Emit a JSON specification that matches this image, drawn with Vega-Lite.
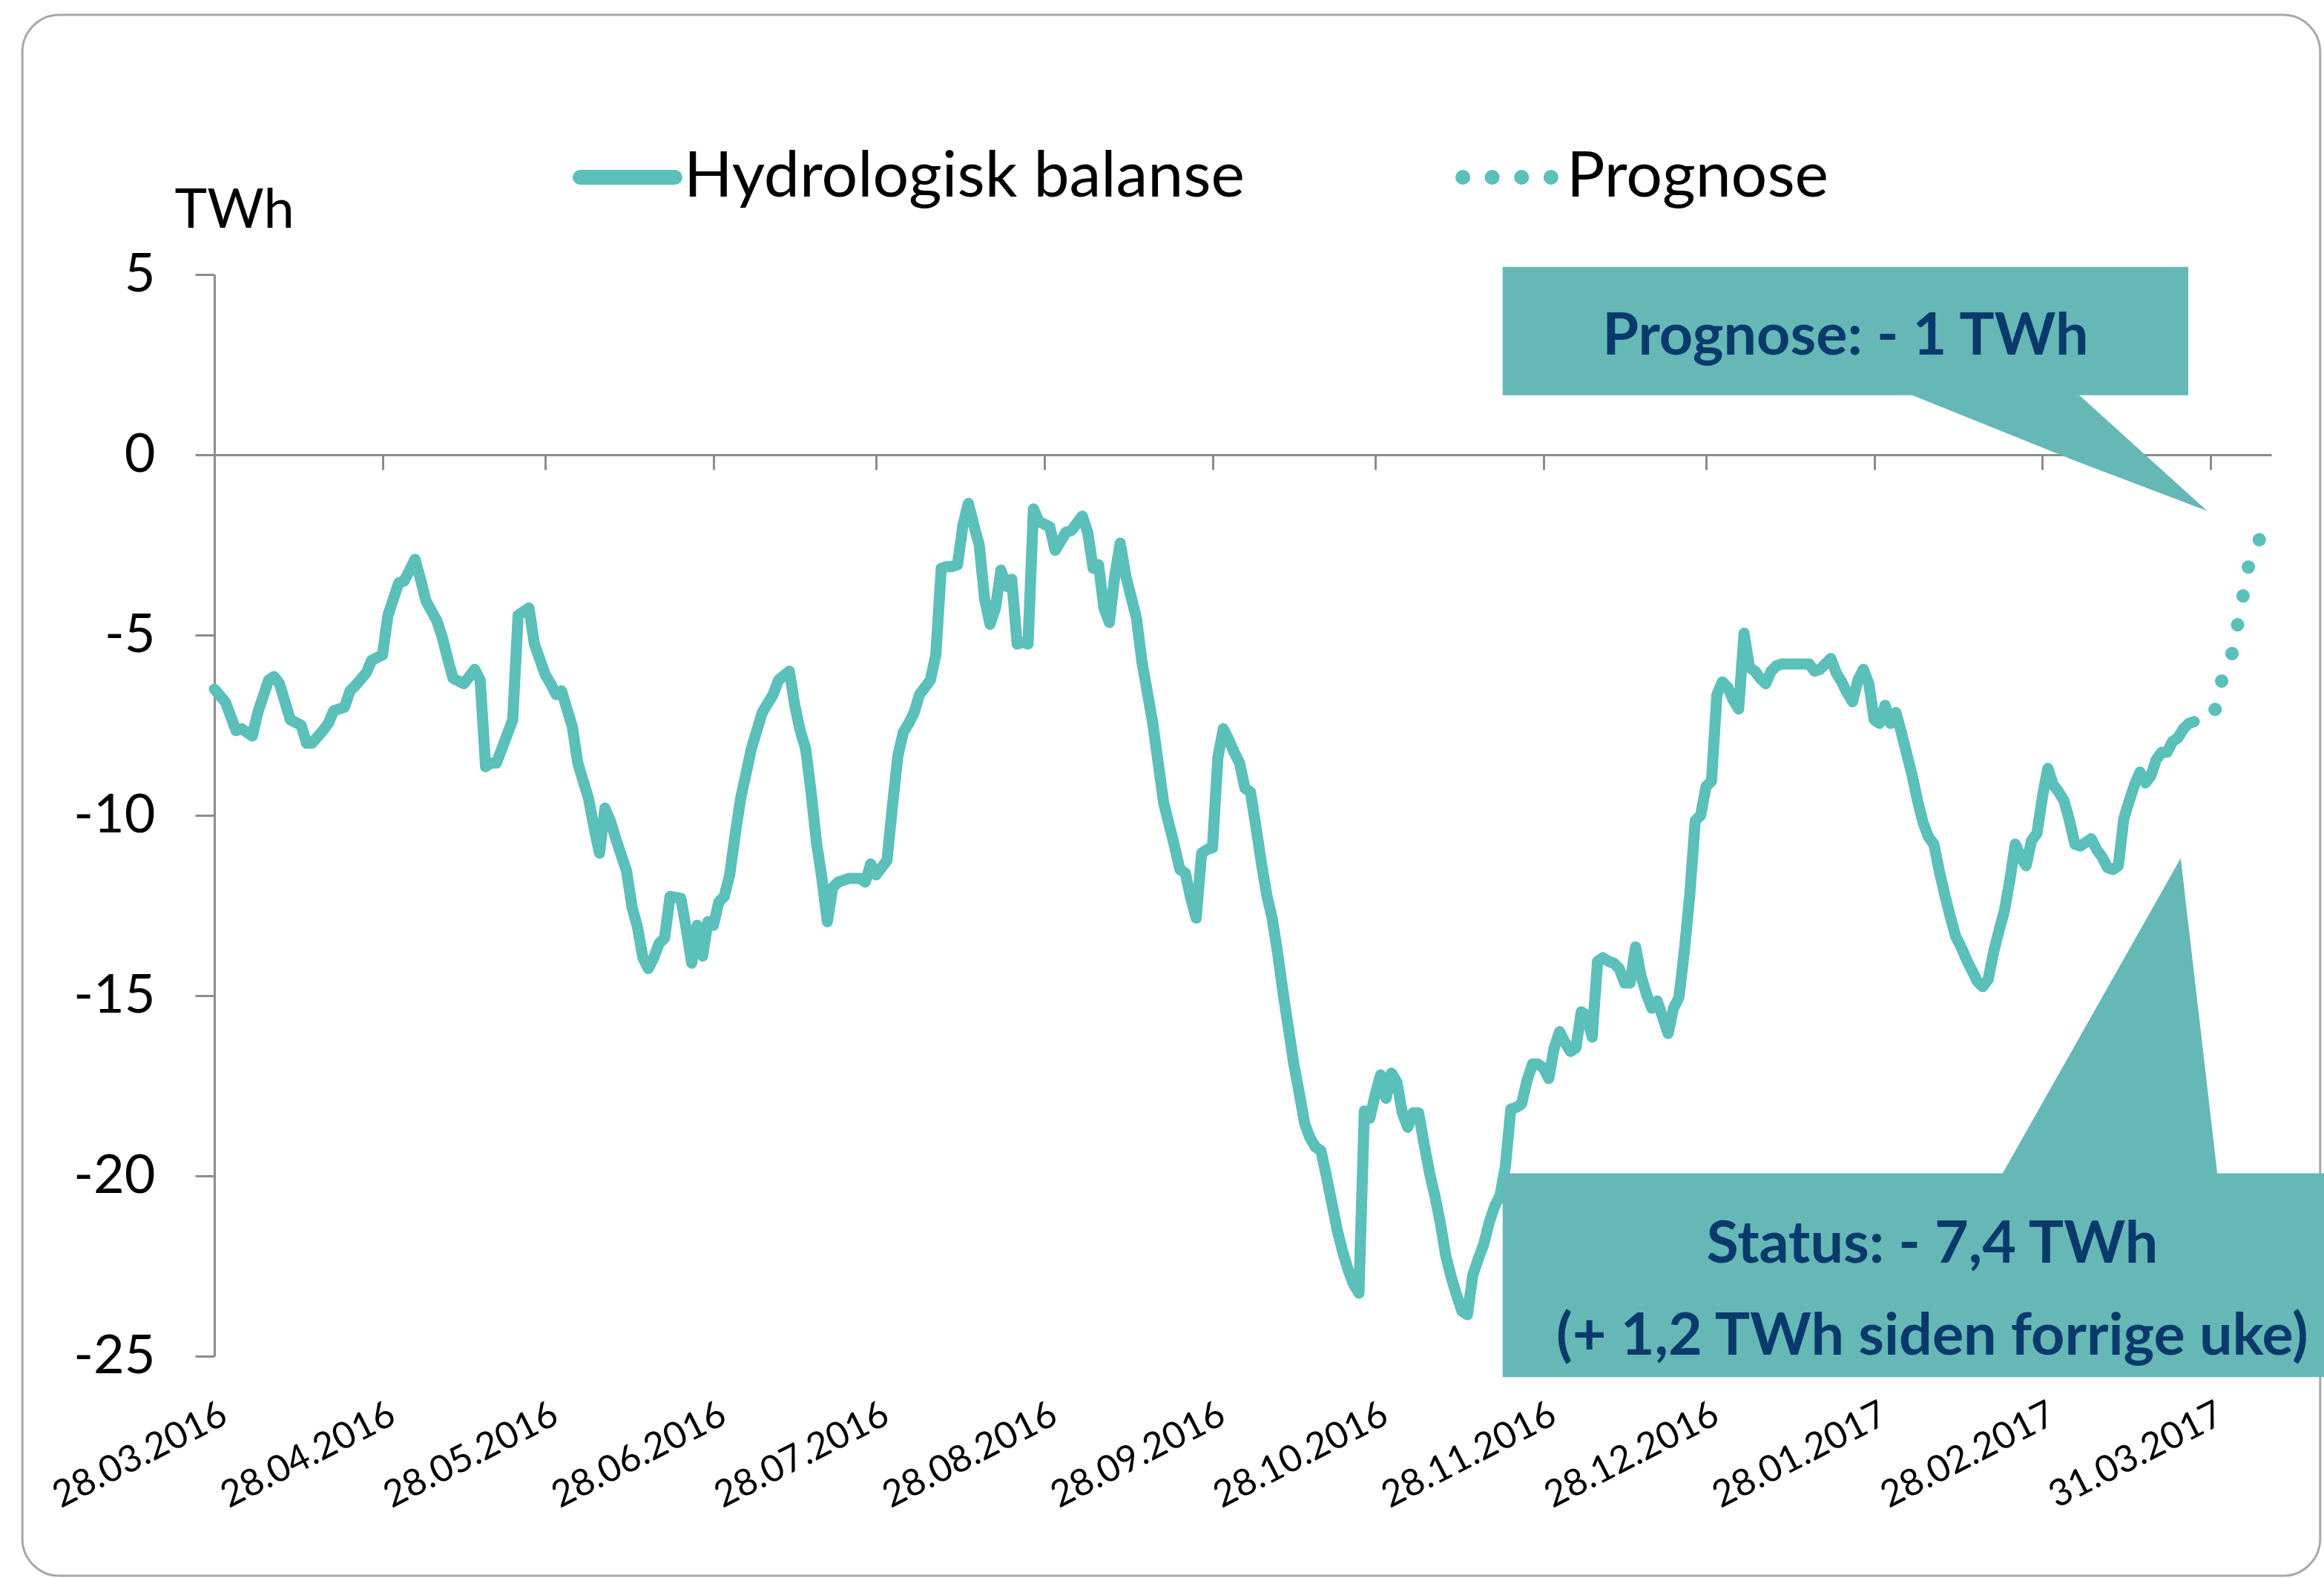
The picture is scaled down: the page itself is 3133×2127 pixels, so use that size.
{
  "$schema": "https://vega.github.io/schema/vega-lite/v6.json",
  "width": 2773,
  "height": 1458,
  "autosize": {"type": "none"},
  "padding": {"left": 289, "top": 370, "right": 71, "bottom": 299},
  "background": "white",
  "config": {"view": {"stroke": null}, "font": "Lato"},
  "datasets": {
    "hydro": [
      {"date":"2016-03-28","value":-6.5},{"date":"2016-03-30","value":-6.85},{"date":"2016-04-01","value":-7.65},{"date":"2016-04-02","value":-7.6},{"date":"2016-04-04","value":-7.8},{"date":"2016-04-05","value":-7.15},{"date":"2016-04-07","value":-6.25},{"date":"2016-04-08","value":-6.15},{"date":"2016-04-09","value":-6.35},{"date":"2016-04-11","value":-7.35},{"date":"2016-04-13","value":-7.5},{"date":"2016-04-14","value":-8.0},{"date":"2016-04-15","value":-8.0},{"date":"2016-04-17","value":-7.65},{"date":"2016-04-18","value":-7.45},{"date":"2016-04-19","value":-7.1},{"date":"2016-04-21","value":-7.0},{"date":"2016-04-22","value":-6.55},{"date":"2016-04-23","value":-6.4},{"date":"2016-04-25","value":-6.05},{"date":"2016-04-26","value":-5.7},{"date":"2016-04-28","value":-5.55},{"date":"2016-04-29","value":-4.45},
      {"date":"2016-05-01","value":-3.55},{"date":"2016-05-02","value":-3.5},{"date":"2016-05-04","value":-2.9},{"date":"2016-05-05","value":-3.45},{"date":"2016-05-06","value":-4.05},{"date":"2016-05-08","value":-4.6},{"date":"2016-05-09","value":-5.05},{"date":"2016-05-10","value":-5.65},{"date":"2016-05-11","value":-6.2},{"date":"2016-05-13","value":-6.35},{"date":"2016-05-15","value":-5.95},{"date":"2016-05-16","value":-6.25},{"date":"2016-05-17","value":-8.65},{"date":"2016-05-18","value":-8.55},{"date":"2016-05-19","value":-8.55},{"date":"2016-05-21","value":-7.75},{"date":"2016-05-22","value":-7.35},{"date":"2016-05-23","value":-4.45},{"date":"2016-05-25","value":-4.25},{"date":"2016-05-26","value":-5.25},{"date":"2016-05-28","value":-6.1},{"date":"2016-05-29","value":-6.35},{"date":"2016-05-30","value":-6.65},{"date":"2016-05-31","value":-6.55},
      {"date":"2016-06-02","value":-7.55},{"date":"2016-06-03","value":-8.55},{"date":"2016-06-05","value":-9.55},{"date":"2016-06-06","value":-10.35},{"date":"2016-06-07","value":-11.05},{"date":"2016-06-08","value":-9.8},{"date":"2016-06-09","value":-10.15},{"date":"2016-06-10","value":-10.65},{"date":"2016-06-12","value":-11.55},{"date":"2016-06-13","value":-12.55},{"date":"2016-06-14","value":-13.1},{"date":"2016-06-15","value":-13.95},{"date":"2016-06-16","value":-14.25},{"date":"2016-06-17","value":-13.95},{"date":"2016-06-18","value":-13.55},{"date":"2016-06-19","value":-13.4},{"date":"2016-06-20","value":-12.25},{"date":"2016-06-22","value":-12.3},{"date":"2016-06-23","value":-13.15},{"date":"2016-06-24","value":-14.1},{"date":"2016-06-25","value":-13.05},{"date":"2016-06-26","value":-13.9},{"date":"2016-06-27","value":-12.95},{"date":"2016-06-28","value":-13.05},{"date":"2016-06-29","value":-12.4},{"date":"2016-06-30","value":-12.25},
      {"date":"2016-07-01","value":-11.65},{"date":"2016-07-02","value":-10.55},{"date":"2016-07-03","value":-9.55},{"date":"2016-07-04","value":-8.85},{"date":"2016-07-05","value":-8.15},{"date":"2016-07-06","value":-7.65},{"date":"2016-07-07","value":-7.15},{"date":"2016-07-09","value":-6.65},{"date":"2016-07-10","value":-6.25},{"date":"2016-07-12","value":-6.0},{"date":"2016-07-13","value":-6.95},{"date":"2016-07-14","value":-7.65},{"date":"2016-07-15","value":-8.15},{"date":"2016-07-16","value":-9.35},{"date":"2016-07-17","value":-10.75},{"date":"2016-07-18","value":-11.75},{"date":"2016-07-19","value":-12.95},{"date":"2016-07-20","value":-12.0},{"date":"2016-07-21","value":-11.85},{"date":"2016-07-23","value":-11.75},{"date":"2016-07-25","value":-11.75},{"date":"2016-07-26","value":-11.85},{"date":"2016-07-27","value":-11.35},{"date":"2016-07-28","value":-11.65},{"date":"2016-07-30","value":-11.25},{"date":"2016-07-31","value":-9.75},
      {"date":"2016-08-01","value":-8.35},{"date":"2016-08-02","value":-7.7},{"date":"2016-08-03","value":-7.45},{"date":"2016-08-04","value":-7.15},{"date":"2016-08-05","value":-6.65},{"date":"2016-08-07","value":-6.25},{"date":"2016-08-08","value":-5.55},{"date":"2016-08-09","value":-3.15},{"date":"2016-08-10","value":-3.1},{"date":"2016-08-11","value":-3.1},{"date":"2016-08-12","value":-3.05},{"date":"2016-08-13","value":-1.95},{"date":"2016-08-14","value":-1.35},{"date":"2016-08-15","value":-1.95},{"date":"2016-08-16","value":-2.5},{"date":"2016-08-17","value":-4.0},{"date":"2016-08-18","value":-4.7},{"date":"2016-08-19","value":-4.25},{"date":"2016-08-20","value":-3.2},{"date":"2016-08-21","value":-3.65},{"date":"2016-08-22","value":-3.45},{"date":"2016-08-23","value":-5.25},{"date":"2016-08-24","value":-5.2},{"date":"2016-08-25","value":-5.25},{"date":"2016-08-26","value":-1.5},{"date":"2016-08-27","value":-1.85},{"date":"2016-08-29","value":-2.0},{"date":"2016-08-30","value":-2.65},
      {"date":"2016-09-01","value":-2.15},{"date":"2016-09-02","value":-2.1},{"date":"2016-09-04","value":-1.7},{"date":"2016-09-05","value":-2.15},{"date":"2016-09-06","value":-3.15},{"date":"2016-09-07","value":-3.05},{"date":"2016-09-08","value":-4.25},{"date":"2016-09-09","value":-4.65},{"date":"2016-09-10","value":-3.35},{"date":"2016-09-11","value":-2.45},{"date":"2016-09-12","value":-3.34},{"date":"2016-09-14","value":-4.54},{"date":"2016-09-15","value":-5.74},{"date":"2016-09-17","value":-7.45},{"date":"2016-09-18","value":-8.55},{"date":"2016-09-19","value":-9.65},{"date":"2016-09-21","value":-10.85},{"date":"2016-09-22","value":-11.5},{"date":"2016-09-23","value":-11.6},{"date":"2016-09-24","value":-12.3},{"date":"2016-09-25","value":-12.85},{"date":"2016-09-26","value":-11.05},{"date":"2016-09-27","value":-10.95},{"date":"2016-09-28","value":-10.9},{"date":"2016-09-29","value":-8.4},{"date":"2016-09-30","value":-7.6},
      {"date":"2016-10-01","value":-7.9},{"date":"2016-10-02","value":-8.25},{"date":"2016-10-03","value":-8.55},{"date":"2016-10-04","value":-9.25},{"date":"2016-10-05","value":-9.35},{"date":"2016-10-06","value":-10.3},{"date":"2016-10-07","value":-11.3},{"date":"2016-10-08","value":-12.2},{"date":"2016-10-09","value":-12.85},{"date":"2016-10-10","value":-13.8},{"date":"2016-10-11","value":-14.9},{"date":"2016-10-12","value":-15.9},{"date":"2016-10-13","value":-16.9},{"date":"2016-10-14","value":-17.7},{"date":"2016-10-15","value":-18.55},{"date":"2016-10-16","value":-18.95},{"date":"2016-10-17","value":-19.2},{"date":"2016-10-18","value":-19.3},{"date":"2016-10-19","value":-20.0},{"date":"2016-10-20","value":-20.75},{"date":"2016-10-21","value":-21.5},{"date":"2016-10-22","value":-22.1},{"date":"2016-10-23","value":-22.6},{"date":"2016-10-24","value":-23.0},{"date":"2016-10-25","value":-23.25},{"date":"2016-10-26","value":-18.2},{"date":"2016-10-27","value":-18.4},{"date":"2016-10-28","value":-17.75},{"date":"2016-10-29","value":-17.2},{"date":"2016-10-30","value":-17.85},{"date":"2016-10-31","value":-17.15},
      {"date":"2016-11-01","value":-17.4},{"date":"2016-11-02","value":-18.25},{"date":"2016-11-03","value":-18.65},{"date":"2016-11-04","value":-18.25},{"date":"2016-11-05","value":-18.25},{"date":"2016-11-06","value":-19.1},{"date":"2016-11-07","value":-19.9},{"date":"2016-11-08","value":-20.55},{"date":"2016-11-09","value":-21.3},{"date":"2016-11-10","value":-22.2},{"date":"2016-11-11","value":-22.8},{"date":"2016-11-12","value":-23.3},{"date":"2016-11-13","value":-23.75},{"date":"2016-11-14","value":-23.85},{"date":"2016-11-15","value":-22.75},{"date":"2016-11-16","value":-22.3},{"date":"2016-11-17","value":-21.9},{"date":"2016-11-18","value":-21.3},{"date":"2016-11-19","value":-20.85},{"date":"2016-11-20","value":-20.55},{"date":"2016-11-21","value":-19.75},{"date":"2016-11-22","value":-18.15},{"date":"2016-11-23","value":-18.1},{"date":"2016-11-24","value":-18.0},{"date":"2016-11-25","value":-17.35},{"date":"2016-11-26","value":-16.9},{"date":"2016-11-27","value":-16.9},{"date":"2016-11-28","value":-17.0},{"date":"2016-11-29","value":-17.3},{"date":"2016-11-30","value":-16.45},
      {"date":"2016-12-01","value":-16.0},{"date":"2016-12-02","value":-16.3},{"date":"2016-12-03","value":-16.55},{"date":"2016-12-04","value":-16.45},{"date":"2016-12-05","value":-15.45},{"date":"2016-12-06","value":-15.55},{"date":"2016-12-07","value":-16.15},{"date":"2016-12-08","value":-14.05},{"date":"2016-12-09","value":-13.95},{"date":"2016-12-10","value":-14.05},{"date":"2016-12-11","value":-14.1},{"date":"2016-12-12","value":-14.25},{"date":"2016-12-13","value":-14.65},{"date":"2016-12-14","value":-14.65},{"date":"2016-12-15","value":-13.65},{"date":"2016-12-16","value":-14.45},{"date":"2016-12-17","value":-14.95},{"date":"2016-12-18","value":-15.35},{"date":"2016-12-19","value":-15.15},{"date":"2016-12-20","value":-15.6},{"date":"2016-12-21","value":-16.05},{"date":"2016-12-22","value":-15.35},{"date":"2016-12-23","value":-15.05},{"date":"2016-12-24","value":-13.75},{"date":"2016-12-25","value":-12.2},{"date":"2016-12-26","value":-10.15},{"date":"2016-12-27","value":-10.0},{"date":"2016-12-28","value":-9.2},{"date":"2016-12-29","value":-9.05},{"date":"2016-12-30","value":-6.65},{"date":"2016-12-31","value":-6.3},
      {"date":"2017-01-01","value":-6.45},{"date":"2017-01-02","value":-6.8},{"date":"2017-01-03","value":-7.05},{"date":"2017-01-04","value":-4.95},{"date":"2017-01-05","value":-5.9},{"date":"2017-01-06","value":-6.0},{"date":"2017-01-07","value":-6.2},{"date":"2017-01-08","value":-6.35},{"date":"2017-01-09","value":-6.0},{"date":"2017-01-10","value":-5.85},{"date":"2017-01-11","value":-5.8},{"date":"2017-01-14","value":-5.8},{"date":"2017-01-16","value":-5.8},{"date":"2017-01-17","value":-6.0},{"date":"2017-01-18","value":-5.95},{"date":"2017-01-19","value":-5.8},{"date":"2017-01-20","value":-5.65},{"date":"2017-01-21","value":-6.05},{"date":"2017-01-22","value":-6.3},{"date":"2017-01-23","value":-6.6},{"date":"2017-01-24","value":-6.85},{"date":"2017-01-25","value":-6.25},{"date":"2017-01-26","value":-5.95},{"date":"2017-01-27","value":-6.35},{"date":"2017-01-28","value":-7.35},{"date":"2017-01-29","value":-7.45},{"date":"2017-01-30","value":-6.95},{"date":"2017-01-31","value":-7.45},
      {"date":"2017-02-01","value":-7.15},{"date":"2017-02-02","value":-7.7},{"date":"2017-02-03","value":-8.3},{"date":"2017-02-04","value":-8.9},{"date":"2017-02-05","value":-9.6},{"date":"2017-02-06","value":-10.2},{"date":"2017-02-07","value":-10.6},{"date":"2017-02-08","value":-10.8},{"date":"2017-02-09","value":-11.55},{"date":"2017-02-10","value":-12.2},{"date":"2017-02-11","value":-12.8},{"date":"2017-02-12","value":-13.35},{"date":"2017-02-13","value":-13.65},{"date":"2017-02-14","value":-14.0},{"date":"2017-02-15","value":-14.3},{"date":"2017-02-16","value":-14.6},{"date":"2017-02-17","value":-14.75},{"date":"2017-02-18","value":-14.55},{"date":"2017-02-19","value":-13.8},{"date":"2017-02-20","value":-13.2},{"date":"2017-02-21","value":-12.65},{"date":"2017-02-22","value":-11.8},{"date":"2017-02-23","value":-10.8},{"date":"2017-02-24","value":-11.15},{"date":"2017-02-25","value":-11.4},{"date":"2017-02-26","value":-10.7},{"date":"2017-02-27","value":-10.5},{"date":"2017-02-28","value":-9.5},
      {"date":"2017-03-01","value":-8.7},{"date":"2017-03-02","value":-9.15},{"date":"2017-03-03","value":-9.35},{"date":"2017-03-04","value":-9.6},{"date":"2017-03-05","value":-10.15},{"date":"2017-03-06","value":-10.8},{"date":"2017-03-07","value":-10.85},{"date":"2017-03-08","value":-10.75},{"date":"2017-03-09","value":-10.65},{"date":"2017-03-10","value":-10.95},{"date":"2017-03-11","value":-11.15},{"date":"2017-03-12","value":-11.45},{"date":"2017-03-13","value":-11.5},{"date":"2017-03-14","value":-11.4},{"date":"2017-03-15","value":-10.1},{"date":"2017-03-16","value":-9.6},{"date":"2017-03-17","value":-9.15},{"date":"2017-03-18","value":-8.8},{"date":"2017-03-19","value":-9.1},{"date":"2017-03-20","value":-8.9},{"date":"2017-03-21","value":-8.45},{"date":"2017-03-22","value":-8.25},{"date":"2017-03-23","value":-8.25},{"date":"2017-03-24","value":-7.95},{"date":"2017-03-25","value":-7.85},{"date":"2017-03-26","value":-7.6},{"date":"2017-03-27","value":-7.45},{"date":"2017-03-28","value":-7.4}
    ],
    "prognose": [
      {"date":"2017-03-28","value":-7.4},{"date":"2017-03-30","value":-7.2},{"date":"2017-04-01","value":-7.05},{"date":"2017-04-02","value":-6.3},{"date":"2017-04-04","value":-5.5},{"date":"2017-04-05","value":-4.7},{"date":"2017-04-06","value":-3.9},{"date":"2017-04-07","value":-3.1},{"date":"2017-04-09","value":-2.35}
    ],
    "frame": [
      {"date":"2016-02-21T14:24:00Z","date2":"2017-04-20T05:00:00Z","value":12.2,"value2":-31.09}
    ],
    "boxes": [
      {"date":"2016-11-20T12:00:00Z","date2":"2017-03-26T21:36:00Z","value":5.21,"value2":1.65},
      {"date":"2016-11-20T12:00:00Z","date2":"2017-04-22","value":-19.93,"value2":-25.58}
    ],
    "pointers": [
      {"shape":"prognose","date":"2017-02-02T09:36:00Z","value":1.75,"value2":1.75},
      {"shape":"prognose","date":"2017-03-06T02:24:00Z","value":1.75,"value2":-0.17},
      {"shape":"prognose","date":"2017-03-30T09:36:00Z","value":-1.56,"value2":-1.56},
      {"shape":"status","date":"2017-02-20T09:36:00Z","value":-20.0,"value2":-20.0},
      {"shape":"status","date":"2017-03-25T12:00:00Z","value":-11.19,"value2":-20.0},
      {"shape":"status","date":"2017-04-01T07:12:00Z","value":-20.0,"value2":-20.0}
    ],
    "labels": [
      {"date":"2017-01-22T16:48:00Z","value":2.78,"label":"Prognose: - 1 TWh"},
      {"date":"2017-02-07T16:48:00Z","value":-22.4,"label":"Status: - 7,4 TWh"},
      {"date":"2017-02-07T16:48:00Z","value":-24.95,"label":"(+ 1,2 TWh siden forrige uke)"}
    ]
  },
  "layer": [
    {
      "data": {"name": "frame"},
      "mark": {"type": "rect", "fill": null, "stroke": "#A8A8A8", "strokeWidth": 3, "cornerRadius": 50},
      "encoding": {
        "x": {"field": "date", "type": "temporal", "title": null},
        "x2": {"field": "date2"},
        "y": {"field": "value", "type": "quantitative", "title": "TWh"},
        "y2": {"field": "value2"}
      }
    },
    {
      "data": {"name": "hydro"},
      "mark": {"type": "line", "stroke": "#5BBFBA", "strokeWidth": 15, "strokeCap": "round", "strokeJoin": "round"},
      "encoding": {
        "x": {
          "field": "date", "type": "temporal", "title": null,
          "scale": {"type": "utc", "domain": [{"year": 2016, "month": 3, "date": 28, "utc": true}, {"year": 2017, "month": 4, "date": 11, "hours": 5, "utc": true}]},
          "axis": {
            "values": [
              {"year": 2016, "month": 3, "date": 28, "utc": true},
              {"year": 2016, "month": 4, "date": 28, "utc": true},
              {"year": 2016, "month": 5, "date": 28, "utc": true},
              {"year": 2016, "month": 6, "date": 28, "utc": true},
              {"year": 2016, "month": 7, "date": 28, "utc": true},
              {"year": 2016, "month": 8, "date": 28, "utc": true},
              {"year": 2016, "month": 9, "date": 28, "utc": true},
              {"year": 2016, "month": 10, "date": 28, "utc": true},
              {"year": 2016, "month": 11, "date": 28, "utc": true},
              {"year": 2016, "month": 12, "date": 28, "utc": true},
              {"year": 2017, "month": 1, "date": 28, "utc": true},
              {"year": 2017, "month": 2, "date": 28, "utc": true},
              {"year": 2017, "month": 3, "date": 31, "utc": true}
            ],
            "format": "%d.%m.%Y",
            "labelAngle": -27,
            "labelAlign": "right",
            "labelBaseline": "top",
            "labelFont": "Lato",
            "labelFontSize": 50,
            "labelColor": "#000000",
            "labelLimit": 0,
            "labelOverlap": false,
            "labelBound": false,
            "labelFlush": false,
            "labelPadding": 1248,
            "labelOffset": 2,
            "offset": -1215,
            "tickSize": 20,
            "tickWidth": 3,
            "tickColor": "#8C8C8C",
            "domainColor": "#8C8C8C",
            "domainWidth": 3,
            "grid": false
          }
        },
        "y": {
          "field": "value", "type": "quantitative", "title": "TWh",
          "scale": {"domain": [-25, 5], "nice": false, "zero": false},
          "axis": {
            "values": [-25, -20, -15, -10, -5, 0, 5],
            "labelExpr": "'' + datum.value",
            "labelFont": "Lato",
            "labelFontSize": 72,
            "labelColor": "#000000",
            "labelPadding": 54,
            "tickSize": 26,
            "tickWidth": 3,
            "tickColor": "#8C8C8C",
            "domainColor": "#8C8C8C",
            "domainWidth": 3,
            "grid": false,
            "titleAngle": 0,
            "titleAlign": "left",
            "titleBaseline": "alphabetic",
            "titleX": -54,
            "titleY": -64,
            "titleFont": "Lato",
            "titleFontSize": 74,
            "titleFontWeight": "normal",
            "titleColor": "#000000"
          }
        },
        "strokeDash": {
          "datum": "Hydrologisk balanse",
          "scale": {"domain": ["Hydrologisk balanse", "Prognose"], "range": [[1, 0], [0.1, 39.5]]},
          "legend": {
            "orient": "none",
            "legendX": 483,
            "legendY": -205,
            "direction": "horizontal",
            "title": null,
            "symbolType": "stroke",
            "symbolSize": 16384,
            "symbolStrokeWidth": 20,
            "symbolStrokeColor": "#5BBFBA",
            "labelFont": "Lato",
            "labelFontSize": 86,
            "labelColor": "#000000",
            "labelOffset": 2,
            "labelLimit": 3000,
            "columnPadding": 254,
            "encode": {"symbols": {"update": {"strokeCap": {"value": "round"}}}}
          }
        }
      }
    },
    {
      "data": {"name": "prognose"},
      "mark": {"type": "line", "stroke": "#5BBFBA", "strokeWidth": 18, "strokeCap": "round", "strokeJoin": "round", "strokeDashOffset": 7},
      "encoding": {
        "x": {"field": "date", "type": "temporal", "title": null},
        "y": {"field": "value", "type": "quantitative", "title": "TWh"},
        "strokeDash": {"datum": "Prognose"}
      }
    },
    {
      "data": {"name": "boxes"},
      "mark": {"type": "rect", "fill": "#65B8B6", "stroke": null},
      "encoding": {
        "x": {"field": "date", "type": "temporal", "title": null},
        "x2": {"field": "date2"},
        "y": {"field": "value", "type": "quantitative", "title": "TWh"},
        "y2": {"field": "value2"}
      }
    },
    {
      "data": {"name": "pointers"},
      "mark": {"type": "area", "fill": "#65B8B6", "stroke": null, "interpolate": "linear"},
      "encoding": {
        "x": {"field": "date", "type": "temporal", "title": null},
        "y": {"field": "value", "type": "quantitative", "title": "TWh"},
        "y2": {"field": "value2"},
        "detail": {"field": "shape"}
      }
    },
    {
      "data": {"name": "labels"},
      "mark": {"type": "text", "font": "Lato", "fontSize": 79, "fontWeight": "bold", "color": "#0A3A6C", "align": "center", "baseline": "alphabetic"},
      "encoding": {
        "x": {"field": "date", "type": "temporal", "title": null},
        "y": {"field": "value", "type": "quantitative", "title": "TWh"},
        "text": {"field": "label"}
      }
    }
  ]
}
